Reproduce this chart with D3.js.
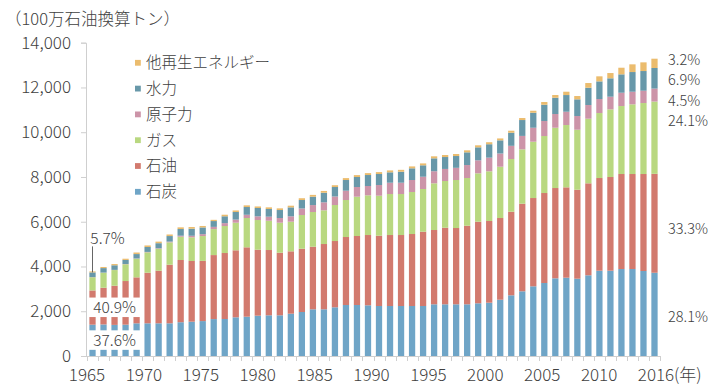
<!DOCTYPE html>
<html><head><meta charset="utf-8">
<script src="https://cdn.jsdelivr.net/npm/d3@7"></script>
<style>
body{margin:0;background:#fff}
svg{display:block}
text{font-family:"Noto Sans CJK JP","Noto Sans",sans-serif;fill:#404040;font-weight:300}
</style>
</head><body><svg id="c" width="720" height="390"></svg>
<script>
// ---- data (100万石油換算トン) ----
const years = [1965,1966,1967,1968,1969,1970,1971,1972,1973,1974,
  1975,1976,1977,1978,1979,1980,1981,1982,1983,1984,
  1985,1986,1987,1988,1989,1990,1991,1992,1993,1994,
  1995,1996,1997,1998,1999,2000,2001,2002,2003,2004,
  2005,2006,2007,2008,2009,2010,2011,2012,2013,2014,
  2015,2016];
const coal = [1400,1410,1390,1400,1460,1461,1461,1461,1510,1533,
  1560,1650,1653,1729,1756,1801,1818,1818,1890,1966,
  2087,2087,2176,2279,2279,2265,2234,2234,2234,2234,
  2234,2310,2310,2310,2310,2355,2381,2515,2712,2891,
  3114,3262,3471,3499,3454,3606,3811,3811,3887,3887,
  3798,3720];
const oil = [1530,1640,1750,1950,2055,2261,2350,2618,2780,2712,
  2690,2860,2949,2994,3101,2949,2918,2798,2788,2828,
  2797,2917,2962,3038,3083,3141,3141,3172,3172,3217,
  3320,3320,3423,3409,3512,3646,3651,3651,3735,3914,
  3945,4021,4035,4038,3976,4110,4142,4187,4245,4245,
  4334,4420];
const gas = [590,670,700,750,830,911,980,1000,1040,1058,
  1110,1160,1206,1233,1309,1326,1309,1340,1323,1506,
  1550,1506,1609,1653,1756,1774,1787,1832,1832,1877,
  1908,2086,2086,2145,2131,2162,2221,2292,2355,2430,
  2516,2547,2694,2784,2681,2887,2904,3024,3038,3114,
  3172,3230];
const nuclear = [6,8,9,12,14,18,25,33,45,70,
  85,100,130,140,145,165,180,210,240,290,
  310,357,380,416,433,416,478,505,505,536,
  549,540,540,545,580,580,610,590,590,600,
  625,670,613,594,612,612,626,565,594,563,
  550,580];
const hydro = [210,200,205,180,196,219,225,248,299,315,
  300,260,305,338,346,372,343,357,400,380,
  375,429,424,478,447,491,492,465,491,523,
  510,577,532,527,568,582,600,589,585,709,
  670,728,728,746,746,773,789,822,822,880,
  880,920];
const renew = [45,50,55,55,70,70,70,70,75,75,
  65,55,70,70,75,70,75,75,75,80,
  80,80,80,85,85,85,85,85,85,85,
  85,90,90,90,90,90,90,85,90,90,
  90,121,121,149,148,210,225,235,296,344,
  388,415];
const seriesNames = ["石炭","石油","ガス","原子力","水力","他再生エネルギー"];
const seriesColors = ["#6fa5c7","#d27a6e","#b9d880","#cc94a8","#6898a9","#ebbc6e"];
const yTicks = [0,2000,4000,6000,8000,10000,12000,14000];
const xTickLabels = ["1965","1970","1975","1980","1985","1990","1995","2000","2005","2010","2016"];
const shares2016 = ["28.1%","33.3%","24.1%","4.5%","6.9%","3.2%"];
const shares1965 = {coal:"37.6%", oil:"40.9%", hydro:"5.7%"};
const yTitle = "（100万石油換算トン）";

// ---- build ----
const svg = d3.select("#c");
const table = years.map((yr,i)=>({year:yr, s0:coal[i], s1:oil[i], s2:gas[i], s3:nuclear[i], s4:hydro[i], s5:renew[i]}));
const keys = ["s0","s1","s2","s3","s4","s5"];
const stack = d3.stack().keys(keys)(table);

const x = d3.scaleBand().domain(years).range([87,660]).paddingInner(0.43).paddingOuter(0.215);
const y = d3.scaleLinear().domain([0,14000]).range([356,42.7]);
const axisColor = "#cfcfcf";

// bars
svg.append("g").selectAll("g").data(stack).join("g")
  .attr("fill",(d,i)=>seriesColors[i])
  .selectAll("rect").data(d=>d).join("rect")
  .attr("x",d=>x(d.data.year))
  .attr("width",x.bandwidth())
  .attr("y",d=>y(d[1]))
  .attr("height",d=>Math.max(0,y(d[0])-y(d[1])));

// y axis
const yAxis = d3.axisLeft(y).tickValues(yTicks).tickFormat(d3.format(",")).tickSize(5).tickPadding(10);
const gy = svg.append("g").attr("transform","translate(86,0)").call(yAxis);
gy.select(".domain").attr("stroke",axisColor);
gy.selectAll(".tick line").attr("stroke",axisColor);
gy.selectAll(".tick text").style("font-size","17px").attr("fill","#404040");

// x axis line and ticks at band boundaries
const gx = svg.append("g");
gx.append("line").attr("x1",86).attr("x2",660).attr("y1",y(0)+0.5).attr("y2",y(0)+0.5).attr("stroke",axisColor);
const half = (x.step()-x.bandwidth())/2;
const bounds = years.map(yr=>x(yr)-half).concat([x(years[years.length-1])+x.bandwidth()+half]);
gx.selectAll("line.t").data(bounds).join("line").attr("class","t")
  .attr("x1",d=>Math.round(d)+0.5).attr("x2",d=>Math.round(d)+0.5)
  .attr("y1",y(0)).attr("y2",y(0)+5).attr("stroke",axisColor);
const xl = d3.scalePoint().domain(xTickLabels).range([87,656]);
gx.selectAll("text").data(xTickLabels).join("text")
  .attr("x",d=>xl(d)).attr("y",381).attr("text-anchor","middle")
  .style("font-size","17px").text(d=>d);
gx.append("text").attr("x",xl("2016")+18).attr("y",381).style("font-size","17px").text("(年)");

// y title
svg.append("text").attr("x",5).attr("y",25).style("font-size","16.5px").text(yTitle);

// legend
const legendOrder = [5,4,3,2,1,0];
const lg = svg.append("g");
legendOrder.forEach((si,k)=>{
  const cy = 62.7 + k*25.8;
  lg.append("rect").attr("x",135).attr("y",cy-2.8).attr("width",5.8).attr("height",5.8).attr("fill",seriesColors[si]);
  lg.append("text").attr("x",146).attr("y",cy+5.5).style("font-size","15.5px").text(seriesNames[si]);
});

// 2016 share labels
const last = table.length-1;
const nudges = [2,6,-17,6,2,-4];
stack.forEach((s,i)=>{
  const mid = (s[last][0]+s[last][1])/2;
  svg.append("text").attr("x",668).attr("y",y(mid)+nudges[i]+5.2)
    .style("font-size","14.5px").text(shares2016[i]);
});

// 1965 annotations
const x0 = x(1965), x1 = x(1969)+x.bandwidth();
const cx = (x0+x1)/2;
function boxLabel(vmid, txt){
  const cy = y(vmid);
  svg.append("rect").attr("x",x0-1.5).attr("y",cy-10).attr("width",x1-x0+3).attr("height",19.5).attr("fill","#fff");
  svg.append("text").attr("x",cx).attr("y",cy+5.5).attr("text-anchor","middle").style("font-size","15.5px").text(txt);
}
boxLabel(coal[0]/2, shares1965.coal);
boxLabel(coal[0]+oil[0]/2, shares1965.oil);
const top1965 = stack[4][0][1];
const lx = x0 + x.bandwidth()/2;
svg.append("line").attr("x1",lx).attr("x2",lx).attr("y1",y(top1965)-26).attr("y2",y(top1965)).attr("stroke","#666").attr("stroke-width",1);
svg.append("text").attr("x",x0+1).attr("y",y(top1965)-34+5.5).style("font-size","15.5px").text(shares1965.hydro);
</script>
</body></html>
